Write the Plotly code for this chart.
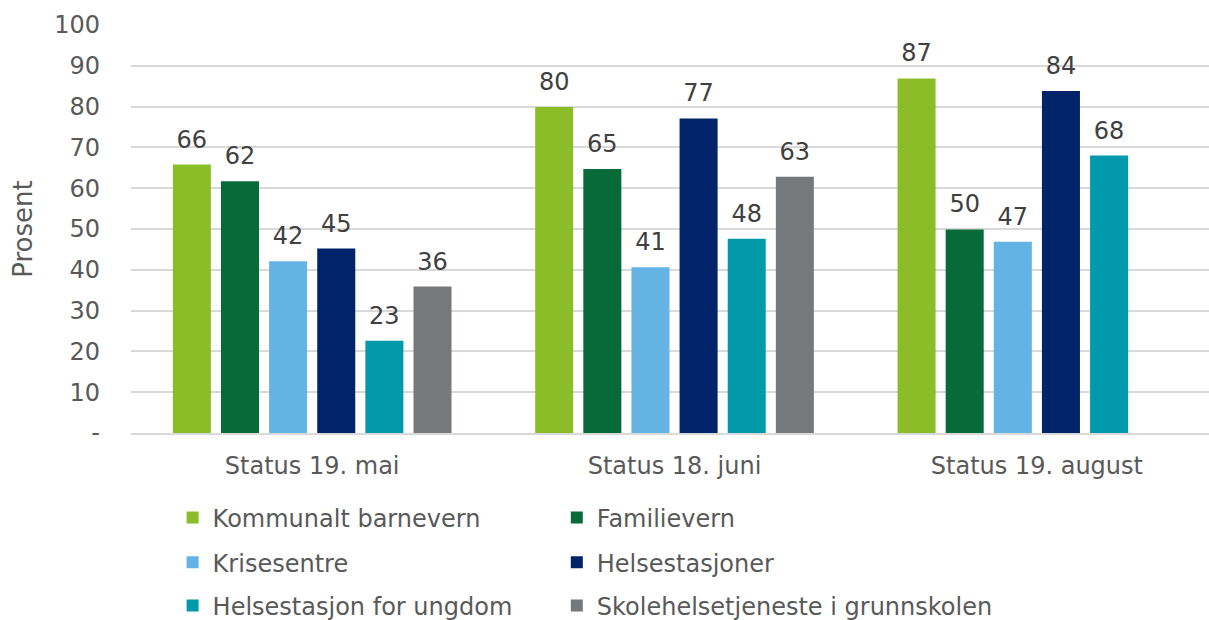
import plotly.graph_objects as go

categories = ["Status 19. mai", "Status 18. juni", "Status 19. august"]
series_names = ["Kommunalt barnevern", "Familievern", "Krisesentre", "Helsestasjoner",
                "Helsestasjon for ungdom", "Skolehelsetjeneste i grunnskolen"]
kommunalt_barnevern = [65.8, 79.9, 86.9]
familievern = [61.7, 64.7, 49.9]
krisesentre = [42.1, 40.6, 46.9]
helsestasjoner = [45.2, 77.1, 83.8]
helsestasjon_ungdom = [22.6, 47.6, 68.0]
skolehelsetjeneste = [35.9, 62.8, None]
colors = ["#8ABD28", "#066B38", "#63B4E4", "#012369", "#0299AB", "#76797C"]
tick_vals = [0, 10, 20, 30, 40, 50, 60, 70, 80, 90, 100]
tick_text = ["-", "10", "20", "30", "40", "50", "60", "70", "80", "90", "100"]

values = [kommunalt_barnevern, familievern, krisesentre, helsestasjoner,
          helsestasjon_ungdom, skolehelsetjeneste]

FONT = "DejaVu Sans"
legend_ids = ["legend", "legend2", "legend3", "legend4", "legend5", "legend6"]
fig = go.Figure()
for i, (name, vals, col, lg) in enumerate(zip(series_names, values, colors, legend_ids)):
    fig.add_trace(go.Bar(
        name=name, x=categories, y=vals, marker_color=col,
        marker_line_width=0, legend=lg, offsetgroup=str(i),
    ))
for i, (name, vals) in enumerate(zip(series_names, values)):
    fig.add_trace(go.Scatter(
        name=name, x=categories, y=vals, mode="markers+text",
        marker=dict(size=16, opacity=0), texttemplate="%{y:.0f}",
        textposition="top center", offsetgroup=str(i),
        textfont=dict(family=FONT, size=24, color="#404040"),
        cliponaxis=False, showlegend=False, hoverinfo="skip",
    ))

leg_common = dict(orientation="h", xanchor="left", yanchor="middle",
                  font=dict(family=FONT, size=24, color="#595959"),
                  bgcolor="rgba(0,0,0,0)")
col_x = [0.0386, 0.395]
row_y = [-0.208, -0.318, -0.424]
legend_layout = {}
for k, lg in enumerate(legend_ids):
    legend_layout[lg] = dict(x=col_x[k % 2], y=row_y[k // 2], **leg_common)

fig.update_layout(
    width=1209, height=620,
    margin=dict(l=131, r=0, t=25, b=187, autoexpand=False),
    paper_bgcolor="white", plot_bgcolor="white",
    barmode="group", bargap=0.203, bargroupgap=0.21,
    scattermode="group", scattergap=0.203,
    font=dict(family=FONT, size=24, color="#595959"),
    xaxis=dict(range=[-0.5, 2.475], showgrid=False, showline=True,
               linecolor="#D9D9D9", linewidth=1.5,
               ticks="", ticklabelstandoff=10,
               tickfont=dict(family=FONT, size=24, color="#595959")),
    yaxis=dict(range=[0, 100], tickvals=tick_vals, ticktext=tick_text,
               showgrid=True, gridcolor="#D9D9D9", gridwidth=1.5,
               zeroline=False, showline=False, ticks="", ticklabelstandoff=30,
               automargin=False,
               tickfont=dict(family=FONT, size=24, color="#595959"),
               title=dict(text="Prosent", standoff=14,
                          font=dict(family=FONT, size=26, color="#595959"))),
    **legend_layout,
)

fig.write_html("out.html", config={"displayModeBar": False},
               post_script="document.body.style.margin='0';document.body.style.overflow='hidden';")
